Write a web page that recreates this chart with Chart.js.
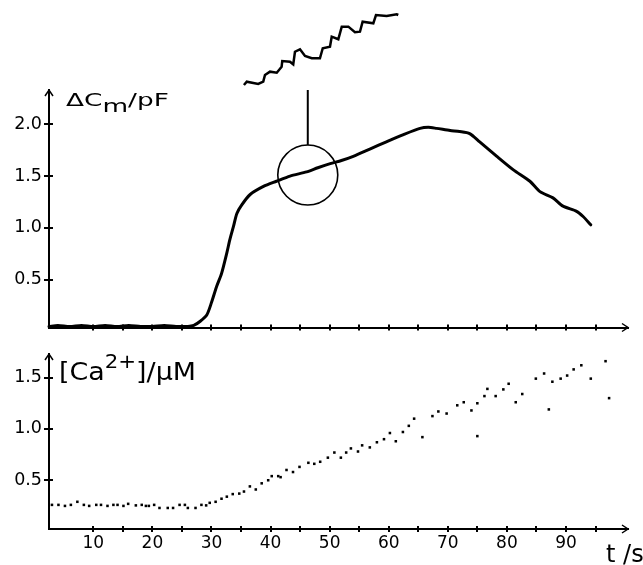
<!DOCTYPE html>
<html><head><meta charset="utf-8">
<script src="https://cdn.jsdelivr.net/npm/chart.js@4.4.0/dist/chart.umd.min.js"></script>
<style>
html,body{margin:0;padding:0;background:#fff;width:643px;height:565px;overflow:hidden;}
canvas{position:absolute;}
</style></head><body>
<canvas id="top" width="643" height="340" style="left:0;top:0"></canvas>
<canvas id="bot" width="643" height="230" style="left:0;top:335px"></canvas>
<canvas id="inset" width="177" height="92" style="left:233px;top:4px"></canvas>
<script>
// ---- data ----
const tCm = [2.5,4,6,8,10,12,14,16,18,20,22,24,26,27,28.1,29.2,30.0,30.9,31.7,32.6,33.1,33.7,34.3,35.1,36.5,38.8,41.0,43.3,46.1,48.0,50.1,52.0,54.0,56.8,59.6,62.5,65.3,66.7,68.1,70.4,72.0,73.7,75.4,78.3,81.1,83.9,85.6,87.8,89.5,91.8,92.9,94.2];
const cm  = [0.05,0.06,0.05,0.06,0.05,0.06,0.05,0.06,0.05,0.05,0.06,0.05,0.05,0.06,0.10,0.16,0.28,0.44,0.56,0.76,0.885,1.01,1.14,1.22,1.32,1.40,1.45,1.50,1.54,1.58,1.62,1.65,1.69,1.76,1.83,1.90,1.96,1.97,1.96,1.94,1.93,1.91,1.83,1.69,1.56,1.45,1.35,1.29,1.21,1.16,1.11,1.03];

const tCa = [3.0,4.1,5.2,6.2,7.3,8.4,9.3,10.5,11.3,12.4,13.4,14.1,15.1,15.9,17.2,18.2,18.9,19.4,20.3,21.2,22.6,23.5,24.6,25.5,26.0,27.3,28.3,29.1,29.7,30.7,31.7,32.6,33.6,34.7,35.5,36.5,37.5,38.5,39.6,40.2,41.3,41.7,42.7,43.8,44.9,46.4,47.4,48.4,49.7,50.8,51.9,52.8,53.6,54.8,55.5,56.8,58.0,59.2,60.2,61.2,62.4,63.4,64.3,65.7,67.4,68.4,69.8,71.6,72.7,74.0,75.0,75.0,76.2,76.7,78.1,79.4,80.3,81.5,82.6,84.9,86.3,87.1,87.7,89.1,90.2,91.3,92.6,94.2,96.7,97.3];
const ca  = [0.26,0.26,0.25,0.26,0.29,0.26,0.25,0.26,0.26,0.25,0.26,0.26,0.25,0.27,0.255,0.26,0.25,0.25,0.26,0.23,0.23,0.23,0.26,0.26,0.23,0.23,0.26,0.255,0.28,0.29,0.32,0.34,0.365,0.37,0.39,0.44,0.41,0.47,0.50,0.54,0.54,0.53,0.60,0.58,0.63,0.67,0.66,0.68,0.72,0.77,0.72,0.77,0.81,0.78,0.84,0.82,0.87,0.90,0.96,0.88,0.97,1.03,1.10,0.92,1.125,1.17,1.15,1.23,1.26,1.18,0.93,1.25,1.32,1.39,1.32,1.385,1.44,1.26,1.34,1.49,1.54,1.19,1.46,1.49,1.52,1.58,1.62,1.49,1.66,1.30];

// magnified detail of the trace (inset), relative units 0-100
const insetT = [0.6,2.4,9.7,12.9,14.0,17.2,21.5,24.6,25.0,29.9,32.0,33.1,36.3,39.5,43.8,49.0,50.8,55.4,56.5,60.7,62.9,67.1,71.3,74.5,76.2,83.0,84.7,91.5,97.9,98.9];
const insetC = [1.4,6.0,2.8,6.0,15.3,19.9,18.5,26.7,34.7,33.8,30.1,47.6,51.0,41.7,38.5,38.5,52.4,54.6,68.5,64.9,82.4,82.4,74.6,75.4,89.3,87.1,98.6,97.2,99.6,98.6];

const xTicks  = [10,15,20,25,30,35,40,45,50,55,60,65,70,75,80,85,90,95];
const cmTicks = [0.5,1.0,1.5,2.0];
const caTicks = [0.5,1.0,1.5];
const zoomMark = {t:46.3, v:1.51};
const pointer = {t:46.3, from:1.80, to:2.33};

// ---- helpers ----
function drawParts(ctx, lb){
  ctx.save();
  ctx.translate(lb.x, lb.y);
  ctx.scale(lb.sx || 1, 1);
  let cx = 0;
  ctx.fillStyle = '#000';
  ctx.textBaseline = 'alphabetic';
  ctx.textAlign = 'left';
  lb.parts.forEach(p => {
    ctx.font = p.size + 'px "DejaVu Sans"';
    ctx.fillText(p.text, cx, p.dy || 0);
    cx += ctx.measureText(p.text).width + (p.gap || 0);
  });
  ctx.restore();
}

const axisDecor = {
  id: 'axisDecor',
  afterDraw(chart, args, opts) {
    const ctx = chart.ctx, x = chart.scales.x, y = chart.scales.y, a = chart.chartArea;
    ctx.save();
    ctx.strokeStyle = '#000';
    ctx.lineWidth = 2;
    ctx.beginPath();
    x.ticks.forEach(t => { const px = Math.round(x.getPixelForValue(t.value)); ctx.moveTo(px, a.bottom); ctx.lineTo(px, a.bottom - 3); });
    y.ticks.forEach(t => { const py = Math.round(y.getPixelForValue(t.value)); ctx.moveTo(a.left, py); ctx.lineTo(a.left + 4, py); });
    ctx.stroke();
    ctx.lineWidth = 1.5;
    ctx.beginPath();
    ctx.moveTo(a.left - 4, a.top + 6); ctx.lineTo(a.left, a.top); ctx.lineTo(a.left + 4, a.top + 6);
    ctx.moveTo(a.right - 6, a.bottom - 4); ctx.lineTo(a.right, a.bottom); ctx.lineTo(a.right - 6, a.bottom + 4);
    ctx.stroke();
    (opts.labels || []).forEach(lb => drawParts(ctx, lb));
    ctx.restore();
  }
};

function xScale(showLabels, h){
  return {
    type:'linear', min:2.5, max:100.5,
    afterBuildTicks: s => { s.ticks = xTicks.map(v => ({value:v})); },
    afterFit: s => { s.height = h; },
    grid:{display:true, drawOnChartArea:false, drawTicks:true, tickLength:3, color:'#000', lineWidth:2},
    border:{display:true, color:'#000', width:2},
    ticks:{display:showLabels, autoSkip:false, maxRotation:0, padding:1, color:'#000',
      font:{family:'DejaVu Sans', size:17},
      callback: v => (v % 10 === 0 ? String(v) : '')}
  };
}
function yScale(min, max, tickVals){
  return {
    type:'linear', min:min, max:max,
    afterBuildTicks: s => { s.ticks = tickVals.map(v => ({value:v})); },
    afterFit: s => { s.width = 49; },
    grid:{display:true, drawOnChartArea:false, drawTicks:true, tickLength:5, color:'#000', lineWidth:2},
    border:{display:true, color:'#000', width:2},
    ticks:{padding:2, color:'#000', font:{family:'DejaVu Sans', size:17.5},
      callback: v => Number(v).toFixed(1)}
  };
}
const common = {responsive:false, animation:false, devicePixelRatio:1, events:[]};

// ---- top panel: membrane capacitance ----
new Chart(document.getElementById('top'), {
  type:'scatter',
  data:{datasets:[
    {data: tCm.map((t,i)=>({x:t, y:cm[i]})), showLine:true, borderColor:'#000', borderWidth:3,
     pointRadius:0, tension:0.25, clip:false, borderCapStyle:'round', borderJoinStyle:'round'},
    {data:[{x:zoomMark.t, y:zoomMark.v}], pointRadius:30, pointBackgroundColor:'rgba(0,0,0,0)',
     pointBorderColor:'#000', pointBorderWidth:1.6, clip:false},
    {data:[{x:pointer.t, y:pointer.from},{x:pointer.t, y:pointer.to}], showLine:true,
     borderColor:'#000', borderWidth:2, pointRadius:0, clip:false}
  ]},
  options:Object.assign({}, common, {
    layout:{autoPadding:false, padding:{left:0, right:15, top:90, bottom:0}},
    plugins:{legend:{display:false}, tooltip:{enabled:false},
      axisDecor:{labels:[
        {x:66, y:106, sx:1.55, parts:[{text:'ΔC', size:17},{text:'m', size:17, dy:6},{text:'/pF', size:17}]}
      ]}},
    scales:{x:xScale(false, 12), y:yScale(0.04, 2.33, cmTicks)}
  }),
  plugins:[axisDecor]
});

// ---- bottom panel: calcium ----
new Chart(document.getElementById('bot'), {
  type:'scatter',
  data:{datasets:[
    {data: tCa.map((t,i)=>({x:t, y:ca[i]})), pointStyle:'rect', pointRadius:1.8,
     pointBackgroundColor:'#000', pointBorderColor:'#000', pointBorderWidth:0, clip:false}
  ]},
  options:Object.assign({}, common, {
    layout:{autoPadding:false, padding:{left:0, right:15, top:19, bottom:0}},
    plugins:{legend:{display:false}, tooltip:{enabled:false},
      axisDecor:{labels:[
        {x:59, y:45, sx:1.12, parts:[{text:'[Ca', size:24},{text:'2+', size:19, dy:-12},{text:']/μM', size:24}]},
        {x:606, y:227, parts:[{text:'t /s', size:24}]}
      ]}},
    scales:{x:xScale(true, 36), y:yScale(0.025, 1.73, caTicks)}
  }),
  plugins:[axisDecor]
});

// ---- inset: magnified trace ----
new Chart(document.getElementById('inset'), {
  type:'scatter',
  data:{datasets:[
    {data: insetT.map((t,i)=>({x:t, y:insetC[i]})), showLine:true, borderColor:'#000', borderWidth:2.5,
     pointRadius:0, tension:0, clip:false}
  ]},
  options:Object.assign({}, common, {
    layout:{autoPadding:false, padding:10},
    plugins:{legend:{display:false}, tooltip:{enabled:false}},
    scales:{x:{display:false, min:0, max:100}, y:{display:false, min:0, max:100}}
  })
});
</script>
</body></html>
